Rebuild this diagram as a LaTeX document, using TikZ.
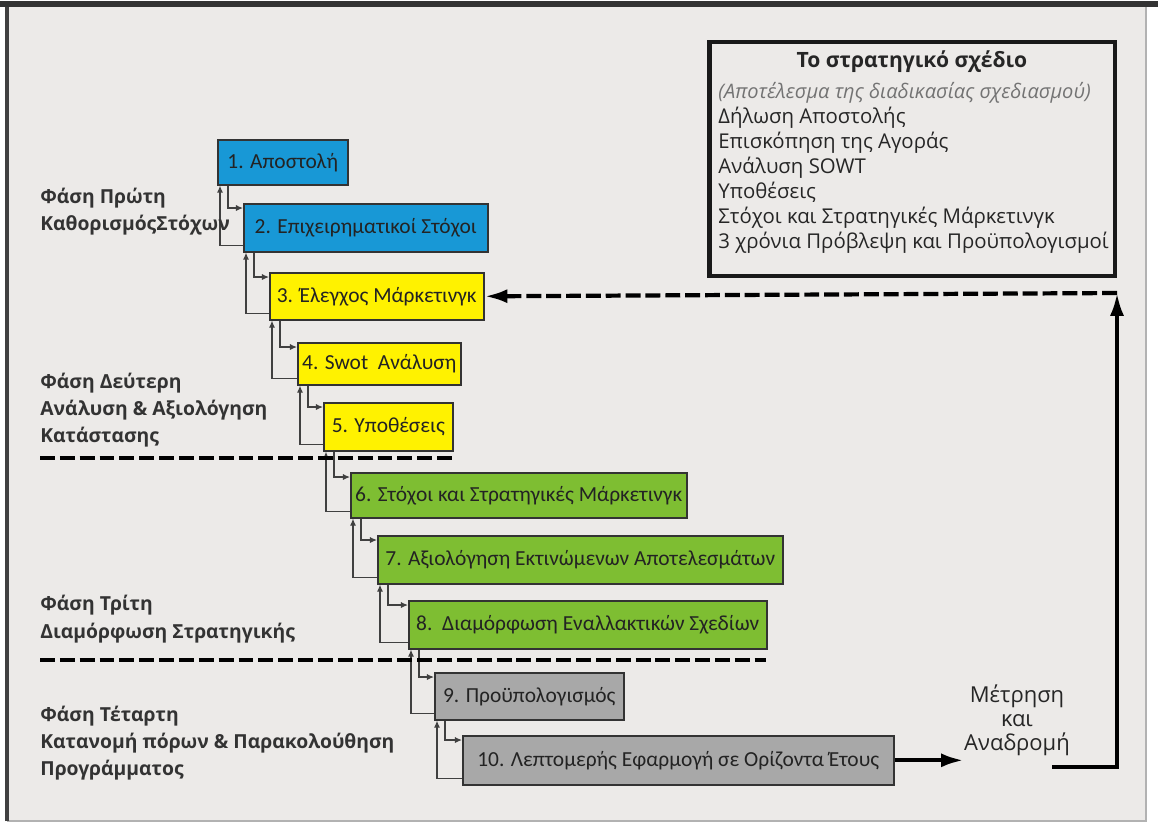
\documentclass[tikz,border=0pt]{standalone}
\usepackage{fontspec}
\setmainfont{Open Sans}
\newfontfamily\stepfont{Carlito}
\usetikzlibrary{arrows.meta, calc}
\definecolor{stepblue}{RGB}{24,152,214}
\definecolor{stepyellow}{RGB}{255,242,0}
\definecolor{stepgreen}{RGB}{126,190,50}
\definecolor{stepgray}{RGB}{168,168,168}
\definecolor{paper}{RGB}{236,234,232}
\definecolor{ink}{RGB}{35,35,35}

\begin{document}
\begin{tikzpicture}[x=0.02cm, y=-0.02cm,
  stepbox/.style={draw=black!80, line width=0.9pt, anchor=north west, text=ink, font=\stepfont\fontsize{12.2}{15}\selectfont},
  phase/.style={anchor=west, align=left, text=black!80, font=\bfseries\fontsize{11}{15.5}\selectfont},
  link/.style={draw=black!75, line width=0.7pt, -{Latex[length=4pt,width=3.5pt]}},
  sepline/.style={line width=2.2pt, dash pattern=on 8.5pt off 2.8pt},
  fbline/.style={line width=2.4pt, -{Latex[length=13pt,width=8pt]}}]
\tikzstyle{every node}+=[inner sep=0pt]
\useasboundingbox (0,0) rectangle (1158,823);
\fill [white] (0,0) rectangle (1158,823);
\fill [paper] (7,6) rectangle (1146,821);
\draw [black!30, line width=1pt] (1146,6) -- (1146,821) -- (7,821);
\draw [black!75, line width=1.8pt] (7,821) -- (7,5);
\draw [black!80, line width=3pt] (0,4) -- (1158,4);
\node [stepbox, fill=stepblue, minimum width=2.60cm, minimum height=0.90cm] (s1) at (217,139) {1. Αποστολή};
\node [stepbox, fill=stepblue, minimum width=4.88cm, minimum height=0.96cm] (s2) at (243,203) {2. Επιχειρηματικοί Στόχοι};
\node [stepbox, fill=stepyellow, minimum width=4.28cm, minimum height=0.94cm] (s3) at (269,272) {3. Έλεγχος Μάρκετινγκ};
\node [stepbox, fill=stepyellow, minimum width=3.26cm, minimum height=0.84cm] (s4) at (297,342) {4. Swot\ \ Ανάλυση};
\node [stepbox, fill=stepyellow, minimum width=2.58cm, minimum height=0.96cm] (s5) at (323,402) {5. Υποθέσεις};
\node [stepbox, fill=stepgreen, minimum width=6.72cm, minimum height=0.90cm] (s6) at (350,472) {6. Στόχοι και Στρατηγικές Μάρκετινγκ};
\node [stepbox, fill=stepgreen, minimum width=8.10cm, minimum height=0.96cm] (s7) at (377,535) {7. Αξιολόγηση Εκτινώμενων Αποτελεσμάτων};
\node [stepbox, fill=stepgreen, minimum width=7.16cm, minimum height=0.96cm] (s8) at (408,600) {8.\ \ Διαμόρφωση Εναλλακτικών Σχεδίων};
\node [stepbox, fill=stepgray, minimum width=3.78cm, minimum height=0.94cm] (s9) at (434,672) {9. Προϋπολογισμός};
\node [stepbox, fill=stepgray, minimum width=8.62cm, minimum height=0.98cm] (s10) at (462,735) {10. Λεπτομερής Εφαρμογή σε Ορίζοντα Έτους};
\draw [link] ($(s1.south west)+(11,0)$) |- ($(s2.north west)+(0,5)$);
\draw [link] ($(s2.south west)+(0,-7)$) -| ($(s1.south west)+(3,0)$);
\draw [link] ($(s2.south west)+(11,0)$) |- ($(s3.north west)+(0,5)$);
\draw [link] ($(s3.south west)+(0,-7)$) -| ($(s2.south west)+(3,0)$);
\draw [link] ($(s3.south west)+(11,0)$) |- ($(s4.north west)+(0,5)$);
\draw [link] ($(s4.south west)+(0,-7)$) -| ($(s3.south west)+(3,0)$);
\draw [link] ($(s4.south west)+(11,0)$) |- ($(s5.north west)+(0,5)$);
\draw [link] ($(s5.south west)+(0,-7)$) -| ($(s4.south west)+(3,0)$);
\draw [link] ($(s5.south west)+(11,0)$) |- ($(s6.north west)+(0,5)$);
\draw [link] ($(s6.south west)+(0,-7)$) -| ($(s5.south west)+(3,0)$);
\draw [link] ($(s6.south west)+(11,0)$) |- ($(s7.north west)+(0,5)$);
\draw [link] ($(s7.south west)+(0,-7)$) -| ($(s6.south west)+(3,0)$);
\draw [link] ($(s7.south west)+(11,0)$) |- ($(s8.north west)+(0,5)$);
\draw [link] ($(s8.south west)+(0,-7)$) -| ($(s7.south west)+(3,0)$);
\draw [link] ($(s8.south west)+(11,0)$) |- ($(s9.north west)+(0,5)$);
\draw [link] ($(s9.south west)+(0,-7)$) -| ($(s8.south west)+(3,0)$);
\draw [link] ($(s9.south west)+(11,0)$) |- ($(s10.north west)+(0,5)$);
\draw [link] ($(s10.south west)+(0,-7)$) -| ($(s9.south west)+(3,0)$);
\draw [sepline] (40,458) -- (452,458);
\draw [sepline] (40,660) -- (766,660);
\node [phase] (p1) at (40,212) {Φάση Πρώτη\\ΚαθορισμόςΣτόχων};
\node [phase] (p2) at (40,410) {Φάση Δεύτερη\\Ανάλυση \& Αξιολόγηση\\Κατάστασης};
\node [phase] (p3) at (40,619) {Φάση Τρίτη\\Διαμόρφωση Στρατηγικής};
\node [phase] (p4) at (40,743) {Φάση Τέταρτη\\Κατανομή πόρων \& Παρακολούθηση\\Προγράμματος};
\node [draw=black!90, line width=2.8pt, minimum width=8.12cm, minimum height=4.68cm] (plan) at (912,159) {};
\node [font=\bfseries\fontsize{12}{14}\selectfont, text=black!85] (plantitle) at (912,62) {Το στρατηγικό σχέδιο};
\node [anchor=north west, align=left, text=black!85, font=\fontsize{11.6}{14.2}\selectfont] (planlist) at (718,82) {{\itshape\fontsize{11.4}{14.2}\selectfont\color{black!55}(Αποτέλεσμα της διαδικασίας σχεδιασμού)}\\Δήλωση Αποστολής\\Επισκόπηση της Αγοράς\\Ανάλυση SOWT\\Υποθέσεις\\Στόχοι και Στρατηγικές Μάρκετινγκ\\3 χρόνια Πρόβλεψη και Προϋπολογισμοί};
\node [align=center, text=black!85, font=\fontsize{12.5}{13.6}\selectfont] (fb) at (1017,720) {Μέτρηση\\και\\Αναδρομή};
\coordinate (fbstart) at (1052,767);
\coordinate (loopup) at (1117,293);
\draw [fbline] (s10.east) -- (s10.east -| fb.west);
\draw [fbline, line width=2.2pt] (fbstart) -| (loopup);
\draw [fbline, dash pattern=on 8.5pt off 2.8pt] (loopup) -- (s3.east);
\end{tikzpicture}
\end{document}
